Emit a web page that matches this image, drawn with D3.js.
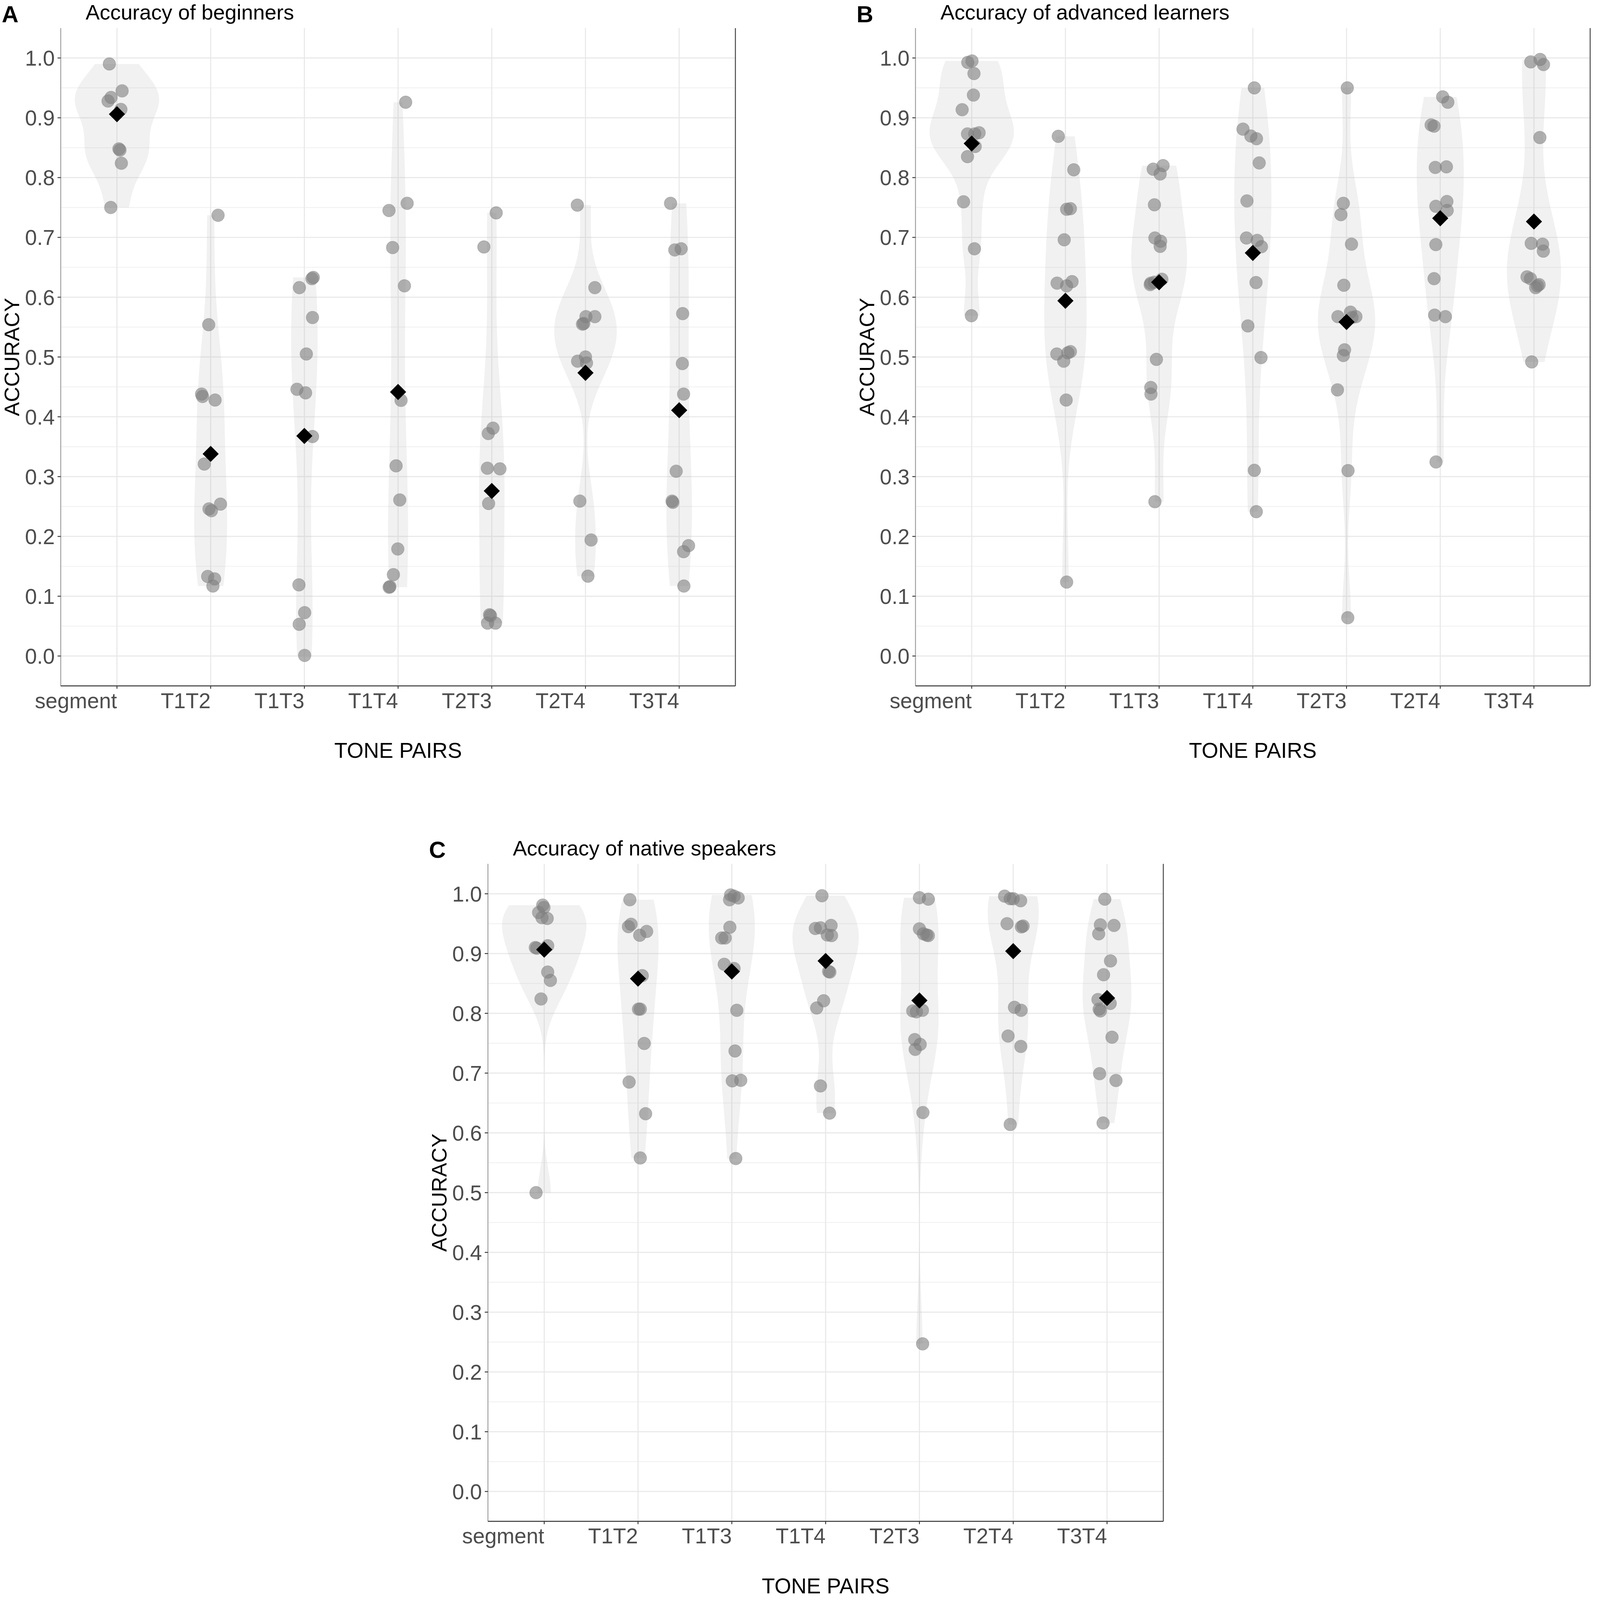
<!DOCTYPE html>
<html>
<head>
<meta charset="utf-8">
<script src="https://cdn.jsdelivr.net/npm/d3@7"></script>
<style>
  html, body { margin: 0; padding: 0; width: 100%; height: 100%; overflow: hidden; background: #fff; }
  text { font-family: "Liberation Sans", Arial, sans-serif; }
</style>
</head>
<body>
<div id="chart"></div>
<script>
var categories = ["segment", "T1T2", "T1T3", "T1T4", "T2T3", "T2T4", "T3T4"];
var yTicks = [0, 0.1, 0.2, 0.3, 0.4, 0.5, 0.6, 0.7, 0.8, 0.9, 1.0];

// accuracy of each participant (as plotted), one list per tone pair
var beginnersValues = [
  [0.990, 0.928, 0.934, 0.945, 0.914, 0.848, 0.846, 0.824, 0.750],
  [0.737, 0.554, 0.438, 0.434, 0.428, 0.321, 0.246, 0.243, 0.254, 0.133, 0.129, 0.117],
  [0.616, 0.631, 0.633, 0.566, 0.505, 0.446, 0.440, 0.367, 0.119, 0.0725, 0.053, 0.001],
  [0.926, 0.745, 0.757, 0.683, 0.619, 0.4275, 0.318, 0.261, 0.179, 0.136, 0.115, 0.116],
  [0.741, 0.684, 0.372, 0.381, 0.314, 0.313, 0.255, 0.069, 0.0675, 0.055, 0.055],
  [0.754, 0.616, 0.5675, 0.5675, 0.556, 0.555, 0.500, 0.493, 0.490, 0.259, 0.194, 0.1335],
  [0.757, 0.679, 0.681, 0.5725, 0.489, 0.438, 0.309, 0.259, 0.257, 0.1845, 0.1745, 0.117]
];
var advancedValues = [
  [0.9926, 0.995, 0.974, 0.938, 0.9135, 0.873, 0.873, 0.875, 0.852, 0.835, 0.7595, 0.681, 0.569],
  [0.869, 0.813, 0.747, 0.748, 0.696, 0.6235, 0.619, 0.626, 0.505, 0.507, 0.509, 0.493, 0.428, 0.1236],
  [0.814, 0.820, 0.806, 0.7545, 0.699, 0.6935, 0.685, 0.6235, 0.625, 0.630, 0.621, 0.496, 0.449, 0.438, 0.258],
  [0.950, 0.881, 0.8695, 0.865, 0.8245, 0.761, 0.699, 0.695, 0.6845, 0.6245, 0.552, 0.499, 0.3105, 0.2414],
  [0.950, 0.757, 0.738, 0.6886, 0.620, 0.5675, 0.575, 0.5675, 0.566, 0.512, 0.5025, 0.445, 0.310, 0.064],
  [0.935, 0.926, 0.888, 0.886, 0.817, 0.818, 0.752, 0.760, 0.745, 0.688, 0.631, 0.570, 0.5675, 0.3245],
  [0.9934, 0.9975, 0.989, 0.867, 0.690, 0.6886, 0.677, 0.634, 0.631, 0.619, 0.621, 0.616, 0.4918]
];
var nativeValues = [
  [0.981, 0.977, 0.9686, 0.9587, 0.960, 0.910, 0.909, 0.913, 0.869, 0.855, 0.824, 0.5],
  [0.990, 0.945, 0.949, 0.9306, 0.937, 0.863, 0.807, 0.807, 0.7496, 0.685, 0.632, 0.558],
  [0.998, 0.996, 0.993, 0.990, 0.944, 0.926, 0.926, 0.882, 0.875, 0.805, 0.737, 0.687, 0.688, 0.557],
  [0.9967, 0.942, 0.943, 0.947, 0.931, 0.930, 0.870, 0.869, 0.821, 0.809, 0.6785, 0.633],
  [0.9934, 0.991, 0.9413, 0.933, 0.931, 0.930, 0.804, 0.8025, 0.805, 0.756, 0.748, 0.7397, 0.634, 0.247],
  [0.996, 0.9917, 0.9917, 0.9884, 0.950, 0.9446, 0.946, 0.810, 0.805, 0.762, 0.7446, 0.614],
  [0.991, 0.948, 0.947, 0.933, 0.8876, 0.8645, 0.823, 0.807, 0.804, 0.8165, 0.760, 0.699, 0.6876, 0.6165]
];

// horizontal jitter of each point, in category widths
var beginnersJitter = [
  [-0.081, -0.095, -0.063, 0.055, 0.042, 0.021, 0.032, 0.047, -0.066],
  [0.079, -0.021, -0.097, -0.087, 0.047, -0.068, -0.018, 0.008, 0.105, -0.032, 0.042, 0.024],
  [-0.053, 0.081, 0.095, 0.087, 0.021, -0.079, 0.013, 0.087, -0.058, 0.003, -0.055, 0.003],
  [0.081, -0.097, 0.097, -0.058, 0.068, 0.032, -0.021, 0.018, -0.003, -0.05, -0.095, -0.087],
  [0.047, -0.084, -0.037, 0.013, -0.047, 0.087, -0.034, -0.024, -0.013, -0.045, 0.039],
  [-0.087, 0.1, 0.005, 0.1, -0.018, -0.032, 0, -0.084, 0.011, -0.06, 0.06, 0.026],
  [-0.092, -0.047, 0.021, 0.037, 0.034, 0.047, -0.032, -0.076, -0.068, 0.1, 0.047, 0.05]
];
var advancedJitter = [
  [-0.042, 0.003, 0.024, 0.018, -0.102, -0.045, 0.032, 0.079, 0.037, -0.045, -0.087, 0.029, -0.003],
  [-0.076, 0.089, 0.013, 0.053, -0.013, -0.089, 0.013, 0.071, -0.092, 0.026, 0.053, -0.018, 0.008, 0.013],
  [-0.063, 0.042, 0.011, -0.05, -0.045, 0.016, 0.011, -0.089, -0.05, 0.029, -0.095, -0.029, -0.089, -0.087, -0.045],
  [0.016, -0.105, -0.021, 0.039, 0.068, -0.063, -0.068, 0.047, 0.092, 0.034, -0.053, 0.087, 0.016, 0.037],
  [0.008, -0.034, -0.06, 0.053, -0.029, -0.092, 0.042, 0.1, 0.058, -0.021, -0.034, -0.097, 0.016, 0.013],
  [0.026, 0.081, -0.097, -0.066, -0.053, 0.066, -0.047, 0.071, 0.074, -0.047, -0.066, -0.06, 0.055, -0.045],
  [-0.034, 0.066, 0.102, 0.063, -0.029, 0.092, 0.1, -0.074, -0.037, 0.037, 0.055, 0.018, -0.024]
];
var nativeJitter = [
  [-0.016, -0.003, -0.06, 0.032, -0.024, -0.095, -0.079, 0.037, 0.037, 0.066, -0.034, -0.087],
  [-0.087, -0.102, -0.074, 0.018, 0.092, 0.045, 0.005, 0.024, 0.066, -0.095, 0.081, 0.024],
  [-0.013, 0.024, 0.068, -0.024, -0.021, -0.108, -0.071, -0.081, 0.024, 0.053, 0.034, 0.005, 0.095, 0.042],
  [-0.039, -0.11, -0.055, 0.058, 0.018, 0.063, 0.032, 0.045, -0.021, -0.095, -0.055, 0.042],
  [0, 0.095, 0, 0.042, 0.076, 0.095, -0.071, -0.032, 0.032, -0.05, 0.008, -0.045, 0.037, 0.034],
  [-0.092, -0.032, 0, 0.079, -0.066, 0.087, 0.105, 0.013, 0.084, -0.055, 0.081, -0.032],
  [-0.024, -0.071, 0.074, -0.089, 0.037, -0.037, -0.097, -0.084, -0.071, 0.034, 0.053, -0.079, 0.095, -0.042]
];

// group means (black diamonds)
var beginnersMeans = [0.906, 0.338, 0.368, 0.4415, 0.276, 0.4735, 0.411];
var advancedMeans = [0.857, 0.594, 0.625, 0.674, 0.5585, 0.732, 0.7265];
var nativeMeans = [0.9066, 0.858, 0.870, 0.8876, 0.8215, 0.904, 0.8256];

var width = 4550, height = 4558;

// viewBox so the whole figure fits whatever viewport we get
var svg = d3.select("#chart").append("svg")
    .attr("viewBox", `0 0 ${width} ${height}`)
    .attr("preserveAspectRatio", "xMinYMin meet")
    .style("width", "100vw")
    .style("height", "100vh")
    .style("display", "block");

svg.append("rect").attr("width", width).attr("height", height).attr("fill", "#fff");

// bw.nrd0 like R
function bwNrd0(v) {
    var s = d3.deviation(v);
    var sorted = v.slice().sort(d3.ascending);
    var iqr = d3.quantile(sorted, 0.75) - d3.quantile(sorted, 0.25);
    var lo = Math.min(s, iqr / 1.34);
    if (!(lo > 0)) lo = s || Math.abs(v[0]) || 1;
    return 0.9 * lo * Math.pow(v.length, -0.2);
}

function density(v) {
    var bw = bwNrd0(v);
    var lo = d3.min(v), hi = d3.max(v);
    var n = 512;
    return d3.range(n).map(function(i) {
        var t = lo + (hi - lo) * i / (n - 1);
        var s = d3.sum(v, function(x) {
            var z = (t - x) / bw;
            return Math.exp(-0.5 * z * z);
        });
        return { v: t, d: s / (v.length * bw * Math.sqrt(2 * Math.PI)) };
    });
}

function drawPanel(opts) {
    var left = opts.left, top = opts.top, right = opts.right, bottom = opts.bottom;
    var g = svg.append("g");

    var x = d3.scalePoint().domain(categories).range([left, right]).padding(0.6);
    var y = d3.scaleLinear().domain([-0.05, 1.05]).range([bottom, top]);
    var step = x.step();

    // grid
    var minor = d3.range(0.05, 1.0, 0.1);
    g.selectAll(".minor").data(minor).enter().append("line")
        .attr("x1", left).attr("x2", right)
        .attr("y1", d => y(d)).attr("y2", d => y(d))
        .attr("stroke", "#f1f1f1").attr("stroke-width", 2.5);
    g.selectAll(".major").data(yTicks).enter().append("line")
        .attr("x1", left).attr("x2", right)
        .attr("y1", d => y(d)).attr("y2", d => y(d))
        .attr("stroke", "#e8e8e8").attr("stroke-width", 3);
    g.selectAll(".vgrid").data(categories).enter().append("line")
        .attr("x1", d => x(d)).attr("x2", d => x(d))
        .attr("y1", top).attr("y2", bottom)
        .attr("stroke", "#e8e8e8").attr("stroke-width", 3);

    // violins, scale = "area": width relative to the largest density in the panel
    var dens = opts.values.map(density);
    var maxD = d3.max(dens, a => d3.max(a, d => d.d));
    dens.forEach(function(a, i) {
        var cx = x(categories[i]);
        var area = d3.area()
            .y(d => y(d.v))
            .x0(d => cx - 0.45 * step * d.d / maxD)
            .x1(d => cx + 0.45 * step * d.d / maxD);
        g.append("path")
            .attr("d", area(a))
            .attr("fill", "#b8b8b8")
            .attr("fill-opacity", 0.2);
    });

    // jittered points
    opts.values.forEach(function(vals, i) {
        var cx = x(categories[i]);
        g.selectAll(null).data(vals).enter().append("circle")
            .attr("cx", (d, j) => cx + opts.jitter[i][j] * step)
            .attr("cy", d => y(d))
            .attr("r", 18)
            .attr("fill", "#7f7f7f")
            .attr("fill-opacity", 0.6)
            .attr("stroke", "#7f7f7f")
            .attr("stroke-opacity", 0.35)
            .attr("stroke-width", 2);
    });

    // means
    var dm = 23;
    g.selectAll(".mean").data(opts.means).enter().append("path")
        .attr("d", `M0,${-dm}L${dm},0L0,${dm}L${-dm},0Z`)
        .attr("transform", (d, i) => `translate(${x(categories[i])},${y(d)})`)
        .attr("fill", "#000");

    // panel lines
    g.append("line").attr("x1", left).attr("x2", left).attr("y1", top).attr("y2", bottom)
        .attr("stroke", "#9a9a9a").attr("stroke-width", 2.5);
    g.append("line").attr("x1", right).attr("x2", right).attr("y1", top).attr("y2", bottom)
        .attr("stroke", "#555").attr("stroke-width", 3);
    g.append("line").attr("x1", left).attr("x2", right).attr("y1", bottom).attr("y2", bottom)
        .attr("stroke", "#444").attr("stroke-width", 3);

    // y ticks
    g.selectAll(".ytick").data(yTicks).enter().append("line")
        .attr("x1", left - 9).attr("x2", left)
        .attr("y1", d => y(d)).attr("y2", d => y(d))
        .attr("stroke", "#333").attr("stroke-width", 2.5);
    g.selectAll(".ylab").data(yTicks).enter().append("text")
        .attr("x", left - 17)
        .attr("y", d => y(d))
        .attr("dy", "0.36em")
        .attr("text-anchor", "end")
        .attr("font-size", 61)
        .attr("fill", "#4d4d4d")
        .text(d => d3.format(".1f")(d));

    // x ticks
    g.selectAll(".xtick").data(categories).enter().append("line")
        .attr("x1", d => x(d)).attr("x2", d => x(d))
        .attr("y1", bottom).attr("y2", bottom + 8)
        .attr("stroke", "#333").attr("stroke-width", 2.5);
    g.selectAll(".xlab").data(categories).enter().append("text")
        .attr("x", d => x(d))
        .attr("y", bottom + 63)
        .attr("text-anchor", "end")
        .attr("font-size", 61)
        .attr("fill", "#4d4d4d")
        .text(d => d);

    // titles
    g.append("text")
        .attr("x", (left + right) / 2)
        .attr("y", bottom + 205)
        .attr("text-anchor", "middle")
        .attr("font-size", 61)
        .attr("fill", "#000")
        .text("TONE PAIRS");
    g.append("text")
        .attr("transform", `translate(${left - 118},${(top + bottom) / 2}) rotate(-90)`)
        .attr("text-anchor", "middle")
        .attr("font-size", 60)
        .attr("fill", "#000")
        .text("ACCURACY");
    g.append("text")
        .attr("x", left + 71)
        .attr("y", top - 24)
        .attr("font-size", 60)
        .attr("fill", "#000")
        .text(opts.title);
    g.append("text")
        .attr("x", left - 168)
        .attr("y", top - 17)
        .attr("font-size", 66)
        .attr("font-weight", "bold")
        .attr("fill", "#000")
        .text(opts.tag);
}

drawPanel({ left: 173, right: 2095, top: 80, bottom: 1954, tag: "A",
    title: "Accuracy of beginners",
    values: beginnersValues, jitter: beginnersJitter, means: beginnersMeans });
drawPanel({ left: 2608, right: 4530, top: 80, bottom: 1954, tag: "B",
    title: "Accuracy of advanced learners",
    values: advancedValues, jitter: advancedJitter, means: advancedMeans });
drawPanel({ left: 1390, right: 3314, top: 2461, bottom: 4334, tag: "C",
    title: "Accuracy of native speakers",
    values: nativeValues, jitter: nativeJitter, means: nativeMeans });
</script>
</body>
</html>
